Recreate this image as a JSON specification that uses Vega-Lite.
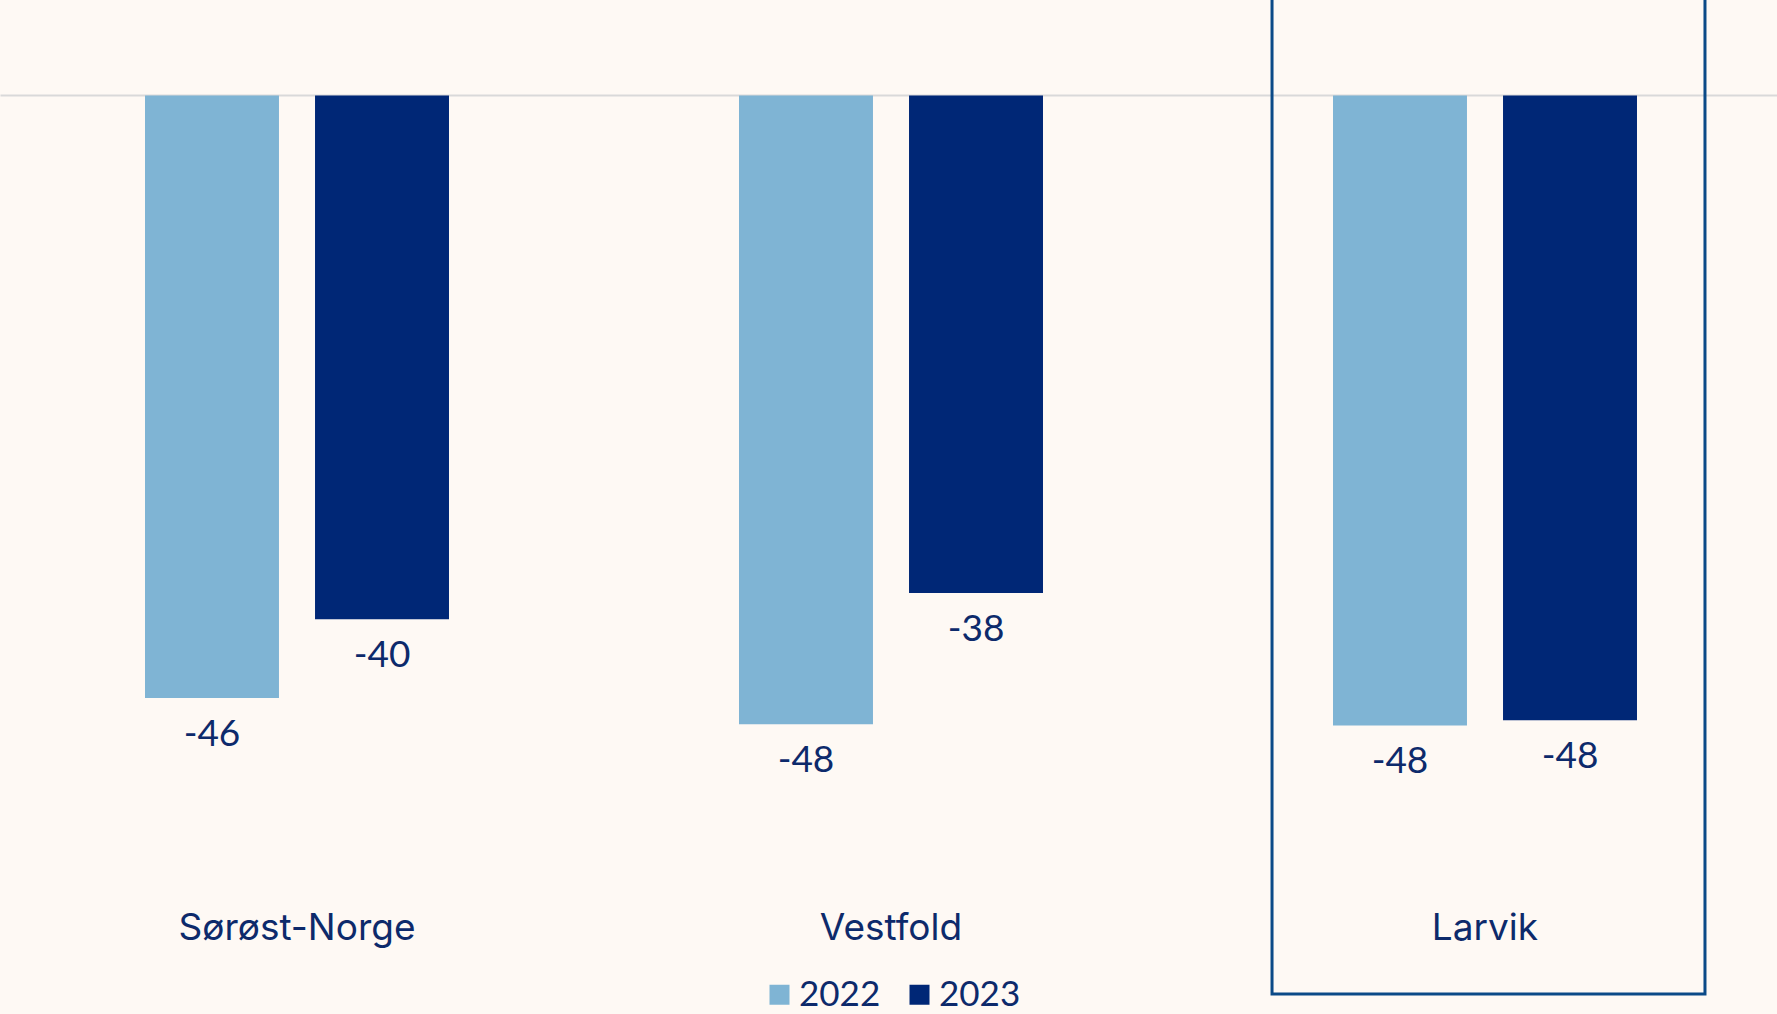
{
  "$schema": "https://vega.github.io/schema/vega-lite/v6.json",
  "width": 1782,
  "height": 883,
  "autosize": {"type": "none"},
  "padding": {"left": 0, "top": 0, "right": 0, "bottom": 131},
  "background": "#fef9f4",
  "config": {
    "view": {"stroke": null},
    "font": "Lato",
    "locale": {"number": {"decimal": ".", "thousands": ",", "grouping": [3], "currency": ["", ""], "minus": "-"}}
  },
  "data": {
    "values": [
      {"region": "Sørøst-Norge", "year": "2022", "value": -45.9},
      {"region": "Sørøst-Norge", "year": "2023", "value": -39.9},
      {"region": "Vestfold", "year": "2022", "value": -47.9},
      {"region": "Vestfold", "year": "2023", "value": -37.9},
      {"region": "Larvik", "year": "2022", "value": -48.0},
      {"region": "Larvik", "year": "2023", "value": -47.6}
    ]
  },
  "encoding": {
    "y": {
      "field": "value", "type": "quantitative",
      "scale": {"domain": [-60, 7.276], "nice": false, "zero": false},
      "axis": {
        "values": [0], "grid": true, "gridColor": "#d9d9d9", "gridWidth": 2,
        "domain": false, "ticks": false, "labels": false, "title": null
      }
    }
  },
  "layer": [
    {
      "encoding": {
        "x": {
          "field": "region", "type": "nominal",
          "sort": ["Sørøst-Norge", "Vestfold", "Larvik"],
          "scale": {"paddingInner": 0.273, "paddingOuter": 0.1365},
          "axis": {
            "title": null, "domain": false, "ticks": false, "tickSize": 0, "grid": false,
            "labelPadding": 45, "labelBaseline": "middle", "labelAngle": 0, "labelLimit": 0,
            "labelFont": "Inter", "labelFontSize": 37, "labelColor": "#0d2a6b"
          }
        },
        "xOffset": {
          "field": "year", "type": "nominal",
          "scale": {"paddingInner": 0.212, "paddingOuter": 0.376}
        }
      },
      "layer": [
        {
          "mark": {"type": "bar"},
          "encoding": {
            "color": {
              "field": "year", "type": "nominal",
              "scale": {"domain": ["2022", "2023"], "range": ["#7fb4d4", "#002776"]},
              "legend": {
                "title": null, "orient": "none", "direction": "horizontal",
                "legendX": 762, "legendY": 977,
                "symbolType": "square", "symbolSize": 400, "symbolStrokeWidth": 0,
                "labelFont": "Lato", "labelFontSize": 35, "labelColor": "#0d2a6b",
                "labelOffset": 2, "columnPadding": 21
              }
            }
          }
        },
        {
          "mark": {"type": "text", "baseline": "top", "dy": 19, "fontSize": 37, "color": "#0d2a6b"},
          "encoding": {
            "text": {"field": "value", "type": "quantitative", "format": ".0f"}
          }
        }
      ]
    },
    {
      "transform": [{"filter": "datum.region === 'Larvik' && datum.year === '2022'"}],
      "mark": {"type": "bar", "fill": "transparent", "stroke": "#0b4a87", "strokeWidth": 3},
      "encoding": {
        "x": {
          "field": "region", "type": "nominal",
          "sort": ["Sørøst-Norge", "Vestfold", "Larvik"],
          "scale": {"domain": ["Sørøst-Norge", "Vestfold", "Larvik"], "paddingInner": 0.2754, "paddingOuter": 0.1289},
          "axis": null
        },
        "y": {"datum": 10, "type": "quantitative"},
        "y2": {"datum": -68.46}
      }
    }
  ],
  "resolve": {"scale": {"x": "independent"}}
}
